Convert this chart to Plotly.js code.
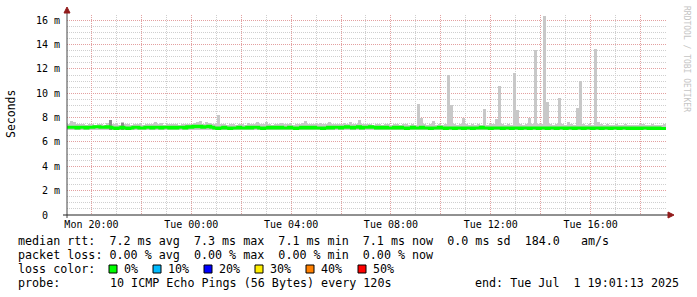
<!DOCTYPE html>
<html><head><meta charset="utf-8">
<script src="https://cdn.plot.ly/plotly-3.0.1.min.js"></script>
<style>html,body{margin:0;padding:0;background:#fff}#chart{width:697px;height:297px}</style>
</head><body><div id="chart"></div>
<script>
// ---------- data ----------
const startParts = [2025, 5, 30, 19, 1, 13];   // Mon 2025-06-30 19:01:13
const endParts   = [2025, 6, 1, 19, 1, 13];    // Tue 2025-07-01 19:01:13
const stepSeconds = 432;

const medianRtt = [
7.2,7.2,7.2,7.15,7.2,7.2,7.15,7.2,7.2,7.25,
7.25,7.2,7.2,7.25,7.2,7.15,7.1,7.15,7.2,7.15,
7.1,7.15,7.2,7.2,7.15,7.15,7.2,7.2,7.15,7.2,
7.2,7.15,7.2,7.2,7.15,7.2,7.15,7.2,7.2,7.15,
7.25,7.2,7.3,7.25,7.3,7.2,7.25,7.3,7.2,7.15,
7.1,7.15,7.2,7.15,7.1,7.15,7.15,7.2,7.15,7.15,
7.2,7.15,7.2,7.2,7.15,7.1,7.15,7.2,7.15,7.2,
7.15,7.2,7.15,7.15,7.2,7.15,7.1,7.15,7.2,7.15,
7.2,7.15,7.2,7.15,7.15,7.1,7.15,7.2,7.15,7.2,
7.2,7.15,7.2,7.25,7.2,7.15,7.2,7.25,7.15,7.2,
7.2,7.25,7.2,7.15,7.2,7.15,7.2,7.15,7.15,7.2,
7.15,7.2,7.15,7.1,7.15,7.2,7.15,7.15,7.2,7.15,
7.15,7.1,7.15,7.15,7.2,7.15,7.1,7.15,7.15,7.1,
7.15,7.15,7.1,7.15,7.15,7.1,7.15,7.15,7.2,7.15,
7.15,7.1,7.15,7.15,7.15,7.1,7.15,7.15,7.1,7.15,
7.15,7.1,7.15,7.15,7.1,7.15,7.15,7.1,7.15,7.15,
7.1,7.15,7.15,7.1,7.15,7.15,7.1,7.15,7.15,7.1,
7.15,7.15,7.1,7.15,7.15,7.1,7.15,7.15,7.1,7.15,
7.15,7.1,7.15,7.15,7.1,7.15,7.15,7.1,7.15,7.1,
7.15,7.1,7.15,7.15,7.1,7.15,7.1,7.15,7.1,7.1];

const smokeTop = [
7.45,7.7,7.6,7.45,7.5,7.45,7.4,7.5,7.45,7.4,
7.45,7.5,7.4,7.55,7.8,7.5,7.45,7.4,7.6,7.5,
7.45,7.4,7.5,7.45,7.55,7.4,7.45,7.5,7.45,7.6,
7.45,7.55,7.4,7.5,7.45,7.5,7.45,7.4,7.5,7.45,
7.5,7.45,7.55,7.6,7.7,7.5,7.6,7.55,7.5,7.45,
8.2,7.5,7.45,7.4,7.5,7.45,7.4,7.5,7.45,7.4,
7.55,7.5,7.45,7.6,7.5,7.45,7.6,7.5,7.4,7.45,
7.5,7.55,7.45,7.5,7.55,7.4,7.5,7.45,7.55,7.75,
7.5,7.45,7.5,7.45,7.55,7.5,7.45,7.6,7.5,7.45,
7.5,7.45,7.55,7.5,7.6,7.5,7.45,7.8,7.5,7.45,
7.45,7.5,7.4,7.5,7.45,7.4,7.5,7.45,7.4,7.5,
7.45,7.4,7.5,7.45,7.4,7.45,7.4,9.1,8.0,7.45,
7.4,7.45,7.7,7.4,7.45,7.4,7.45,11.5,9.0,7.45,
7.4,7.45,8.0,7.5,7.4,7.45,7.4,7.45,7.4,8.7,
7.4,7.45,7.5,7.9,10.6,7.45,7.4,7.45,7.4,11.7,
8.6,7.45,7.4,7.45,8.0,7.45,13.55,7.45,7.5,16.35,
9.3,7.45,7.4,7.5,9.6,7.45,7.4,7.6,7.45,7.4,
8.8,11.0,7.45,7.4,7.45,7.4,13.6,7.6,7.45,7.4,
7.45,7.4,7.4,7.45,7.4,7.4,7.45,7.4,7.4,7.4,
7.4,7.45,7.5,7.4,7.4,7.45,7.4,7.4,7.4,7.45];
const smokeBottom = 7.0;

const darkSmokeIdx = [14, 18];
const darkSmokeTop = [7.8, 7.55];

const yTickVals = [0, 2, 4, 6, 8, 10, 12, 14, 16];
const yTickText = ['0  ', '2 m', '4 m', '6 m', '8 m', '10 m', '12 m', '14 m', '16 m'];
const xTickVals = ['2025-06-30 20:00:00','2025-06-30 22:00:00','2025-07-01 00:00:00','2025-07-01 02:00:00',
  '2025-07-01 04:00:00','2025-07-01 06:00:00','2025-07-01 08:00:00','2025-07-01 10:00:00',
  '2025-07-01 12:00:00','2025-07-01 14:00:00','2025-07-01 16:00:00','2025-07-01 18:00:00'];
const xTickText = ['Mon 20:00','','Tue 00:00','','Tue 04:00','','Tue 08:00','','Tue 12:00','','Tue 16:00',''];

const statLine1 = 'median rtt:  7.2 ms avg  7.3 ms max  7.1 ms min  7.1 ms now  0.0 ms sd  184.0   am/s';
const statLine2 = 'packet loss: 0.00 % avg  0.00 % max  0.00 % min  0.00 % now';
const lossTitle = 'loss color:';
const lossLabels = ['0%', '10%', '20%', '30%', '40%', '50%'];
const lossColors = ['#00ff00', '#00bbff', '#0000ff', '#ffee00', '#ff8000', '#ff0000'];
const probeTitle = 'probe:';
const probeText = '10 ICMP Echo Pings (56 Bytes) every 120s';
const endText = 'end: Tue Jul  1 19:01:13 2025';
const yTitle = 'Seconds';
const watermark = 'RRDTOOL / TOBI OETIKER';

// ---------- helpers ----------
const t0 = Date.UTC(...startParts);
const fmt = ms => new Date(ms).toISOString().slice(0, 19).replace('T', ' ');
const startStr = fmt(t0), endStr = fmt(Date.UTC(...endParts));
const L = 67, T = 15, PW = 599, PH = 200;
const px = x => (x - L) / PW;
const py = y => (T + PH - y) / PH;
const nb = s => s.replace(/ /g, '\u00a0');
const P = (x, y) => px(x) + ',' + py(y);

const binCenters = medianRtt.map((_, i) => fmt(t0 + (i + 0.5) * stepSeconds * 1000));
const binStarts = medianRtt.map((_, i) => fmt(t0 + i * stepSeconds * 1000));

const traces = [
  { type: 'bar', x: binCenters, y: smokeTop.map(v => v - smokeBottom), base: smokeTop.map(() => smokeBottom),
    width: stepSeconds * 1000, marker: { color: '#c8c8c8', line: { width: 0 } }, hoverinfo: 'skip' },
  { type: 'bar', x: darkSmokeIdx.map(i => binCenters[i]), y: darkSmokeTop.map(v => v - smokeBottom),
    base: darkSmokeTop.map(() => smokeBottom), width: stepSeconds * 1000,
    marker: { color: '#8c8c8c', line: { width: 0 } }, hoverinfo: 'skip' },
  { type: 'scatter', mode: 'lines', x: binStarts.concat([endStr]), y: medianRtt.concat([medianRtt[medianRtt.length - 1]]),
    line: { color: '#00ff00', width: 3, shape: 'hv' }, hoverinfo: 'skip' }
];

const mono = 'DejaVu Sans Mono';
const legendFont = { family: mono, size: 11.7, color: '#000' };
const ann = (text, x, y, xanchor) => ({ xref: 'paper', yref: 'paper', x: px(x), y: py(y), text: nb(text),
  showarrow: false, xanchor: xanchor || 'left', yanchor: 'middle', font: legendFont });

const annotations = [
  ann(statLine1, 16, 241), ann(statLine2, 16, 255), ann(lossTitle, 16, 269),
  ann(probeTitle, 16, 283), ann(probeText, 108, 283), ann(endText, 681, 283, 'right'),
  { xref: 'paper', yref: 'paper', x: px(11), y: py(114), text: yTitle, textangle: -90, showarrow: false,
    xanchor: 'center', yanchor: 'middle', font: { family: mono, size: 11.5, color: '#000' } },
  { xref: 'paper', yref: 'paper', x: px(686), y: py(59), text: nb(watermark), textangle: 90, showarrow: false,
    xanchor: 'center', yanchor: 'middle', font: { family: mono, size: 8, color: '#c4c4c4' } }
];
const boxX = [109, 153, 204, 255, 306, 358];
const shapes = [
  { type: 'line', xref: 'paper', yref: 'paper', x0: px(67), x1: px(67), y0: py(218), y1: py(12), line: { color: '#444', width: 1 } },
  { type: 'line', xref: 'paper', yref: 'paper', x0: px(63), x1: px(669), y0: py(215), y1: py(215), line: { color: '#222', width: 1 } },
  { type: 'path', xref: 'paper', yref: 'paper', path: 'M' + P(64, 13) + 'L' + P(70, 13) + 'L' + P(67, 7) + 'Z',
    fillcolor: '#921b1b', line: { color: '#921b1b', width: 1 } },
  { type: 'path', xref: 'paper', yref: 'paper', path: 'M' + P(668, 212) + 'L' + P(668, 218) + 'L' + P(674, 215) + 'Z',
    fillcolor: '#921b1b', line: { color: '#921b1b', width: 1 } }
];
lossLabels.forEach((lab, k) => {
  shapes.push({ type: 'rect', xref: 'paper', yref: 'paper', x0: px(boxX[k]), x1: px(boxX[k] + 8), y0: py(273), y1: py(265),
    fillcolor: lossColors[k], line: { color: '#000', width: 1 } });
  annotations.push(ann(lab, boxX[k] + 13, 269));
});

const gridDash = '1px,1px';
const layout = {
  width: 697, height: 297,
  margin: { l: L, r: 697 - L - PW, t: T, b: 297 - T - PH, pad: 0 },
  paper_bgcolor: '#fff', plot_bgcolor: '#fff',
  showlegend: false, barmode: 'overlay', bargap: 0,
  font: { family: mono, size: 10, color: '#000' },
  xaxis: {
    type: 'date', range: [startStr, endStr], tickmode: 'array', tickvals: xTickVals, ticktext: xTickText,
    showgrid: true, gridcolor: '#e3a0a0', gridwidth: 1, griddash: gridDash,
    minor: { dtick: 3600000, tick0: '2025-06-30 19:00:00', showgrid: true, gridcolor: '#cfcfcf', gridwidth: 1, griddash: gridDash, ticks: '' },
    showline: false, zeroline: false, ticks: '', ticklabelstandoff: 2,
    tickfont: { family: mono, size: 10, color: '#000' }, fixedrange: true
  },
  yaxis: {
    range: [0, 16.43], tickmode: 'array', tickvals: yTickVals, ticktext: yTickText.map(nb),
    showgrid: true, gridcolor: '#e3a0a0', gridwidth: 1, griddash: gridDash,
    minor: { dtick: 0.5, tick0: 0, showgrid: true, gridcolor: '#cfcfcf', gridwidth: 1, griddash: gridDash, ticks: '' },
    showline: false, zeroline: false, ticks: '', ticklabelstandoff: 6,
    tickfont: { family: mono, size: 10, color: '#000' }, fixedrange: true
  },
  shapes: shapes, annotations: annotations
};
Plotly.newPlot('chart', traces, layout, { staticPlot: true, displayModeBar: false });
</script></body></html>
